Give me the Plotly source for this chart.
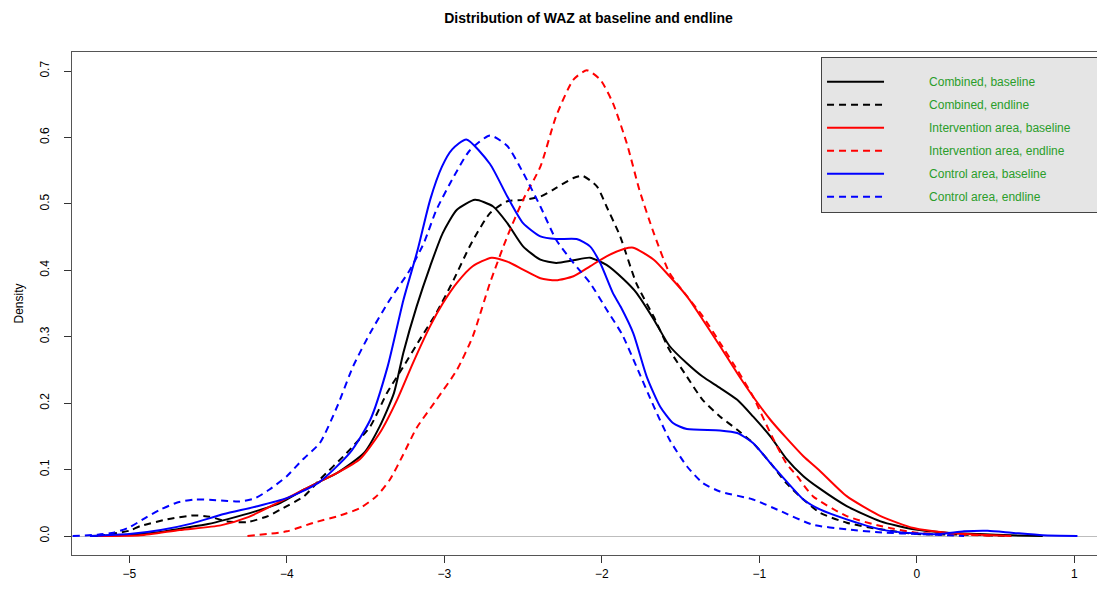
import plotly.graph_objects as go

# density curves (WAZ value, density)
comb_base_x = [-5.25, -5.0, -4.8, -4.68, -4.5, -4.38, -4.2, -4.04, -3.89, -3.79, -3.68, -3.51, -3.41, -3.32,
               -3.26, -3.175, -3.09, -3.01, -2.92, -2.805, -2.69, -2.6, -2.5, -2.39, -2.29, -2.18, -2.075,
               -1.97, -1.86, -1.78, -1.67, -1.57, -1.46, -1.36, -1.25, -1.14, -1.04, -0.93, -0.83, -0.72,
               -0.62, -0.445, -0.23, -0.02, 0.19, 0.4, 0.6, 0.8]
comb_base_y = [0.0, 0.002, 0.006, 0.011, 0.018, 0.025, 0.037, 0.05, 0.07, 0.082, 0.095, 0.125, 0.165, 0.215,
               0.276, 0.346, 0.406, 0.456, 0.491, 0.506, 0.496, 0.471, 0.436, 0.416, 0.411, 0.415, 0.419,
               0.408, 0.386, 0.366, 0.326, 0.286, 0.26, 0.24, 0.223, 0.205, 0.18, 0.15, 0.117, 0.09,
               0.072, 0.045, 0.022, 0.01, 0.005, 0.003, 0.001, 0.0]

comb_end_x = [-5.2, -5.0, -4.93, -4.76, -4.59, -4.49, -4.38, -4.25, -4.12, -4.04, -3.89, -3.79, -3.62, -3.47,
              -3.365, -3.26, -3.155, -3.05, -2.94, -2.83, -2.71, -2.6, -2.5, -2.39, -2.29, -2.18, -2.12,
              -2.03, -1.97, -1.885, -1.78, -1.67, -1.57, -1.46, -1.36, -1.25, -1.14, -1.04, -0.93, -0.83,
              -0.72, -0.615, -0.445, -0.23, 0.0, 0.3, 0.6]
comb_end_y = [0.0, 0.008, 0.015, 0.025, 0.031, 0.029, 0.022, 0.021, 0.03, 0.04, 0.06, 0.085, 0.125, 0.165,
              0.215, 0.255, 0.296, 0.336, 0.386, 0.44, 0.486, 0.504, 0.506, 0.511, 0.524, 0.539, 0.542,
              0.526, 0.496, 0.452, 0.38, 0.33, 0.28, 0.24, 0.205, 0.18, 0.16, 0.14, 0.11, 0.08,
              0.055, 0.035, 0.02, 0.01, 0.003, 0.002, 0.0]

int_base_x = [-5.2, -4.93, -4.68, -4.42, -4.25, -4.04, -3.89, -3.79, -3.68, -3.535, -3.41, -3.3, -3.2, -3.09,
              -3.01, -2.92, -2.82, -2.7, -2.6, -2.5, -2.39, -2.29, -2.18, -2.075, -1.97, -1.86, -1.8, -1.67,
              -1.57, -1.46, -1.36, -1.25, -1.14, -1.04, -0.93, -0.83, -0.72, -0.615, -0.445, -0.23, -0.02,
              0.19, 0.4, 0.6]
int_base_y = [0.0, 0.001, 0.009, 0.016, 0.028, 0.052, 0.07, 0.082, 0.095, 0.116, 0.155, 0.205, 0.26, 0.316,
              0.35, 0.381, 0.406, 0.419, 0.413, 0.401, 0.388, 0.385, 0.391, 0.406, 0.421, 0.432, 0.434, 0.416,
              0.391, 0.361, 0.326, 0.286, 0.245, 0.21, 0.175, 0.148, 0.12, 0.098, 0.06, 0.03, 0.012,
              0.005, 0.002, 0.0]

int_end_x = [-4.25, -4.0, -3.83, -3.66, -3.535, -3.43, -3.345, -3.26, -3.175, -3.05, -2.92, -2.82, -2.71,
             -2.6, -2.5, -2.39, -2.29, -2.18, -2.095, -2.01, -1.93, -1.84, -1.76, -1.67, -1.57, -1.46,
             -1.36, -1.25, -1.14, -1.04, -0.93, -0.83, -0.76, -0.66, -0.445, -0.23, 0.0, 0.3, 0.5]
int_end_y = [0.0, 0.007, 0.02, 0.031, 0.042, 0.06, 0.085, 0.123, 0.163, 0.205, 0.25, 0.3, 0.381,
             0.451, 0.506, 0.556, 0.632, 0.687, 0.701, 0.687, 0.652, 0.59, 0.52, 0.456, 0.396, 0.361,
             0.331, 0.291, 0.25, 0.21, 0.155, 0.11, 0.09, 0.06, 0.03, 0.015, 0.005, 0.002, 0.0]

ctrl_base_x = [-5.25, -5.0, -4.8, -4.6, -4.4, -4.2, -4.0, -3.8, -3.6, -3.47, -3.36, -3.26, -3.17, -3.09,
               -3.015, -2.95, -2.86, -2.71, -2.6, -2.5, -2.39, -2.29, -2.16, -2.075, -2.01, -1.93, -1.88,
               -1.8, -1.715, -1.63, -1.548, -1.46, -1.25, -1.14, -1.04, -0.93, -0.83, -0.72, -0.615,
               -0.445, -0.23, -0.02, 0.15, 0.3, 0.45, 0.6, 0.8, 1.02]
ctrl_base_y = [0.0, 0.003, 0.009, 0.019, 0.033, 0.044, 0.057, 0.08, 0.125, 0.175, 0.255, 0.355, 0.43, 0.506,
               0.556, 0.582, 0.597, 0.56, 0.511, 0.471, 0.451, 0.447, 0.447, 0.436, 0.411, 0.366, 0.345,
               0.305, 0.24, 0.195, 0.17, 0.161, 0.159, 0.155, 0.14, 0.11, 0.083, 0.055, 0.04,
               0.025, 0.01, 0.004, 0.003, 0.007, 0.008, 0.005, 0.001, 0.0]

ctrl_end_x = [-5.36, -5.2, -5.1, -5.0, -4.9, -4.8, -4.7, -4.59, -4.45, -4.3, -4.2, -4.11, -4.0, -3.9, -3.79,
              -3.68, -3.58, -3.47, -3.345, -3.22, -3.13, -3.05, -2.94, -2.84, -2.71, -2.6, -2.5, -2.39,
              -2.29, -2.18, -2.075, -1.97, -1.87, -1.78, -1.67, -1.57, -1.46, -1.36, -1.25, -1.04, -0.87,
              -0.66, -0.445, -0.2, 0.0, 0.2, 0.3]
ctrl_end_y = [0.0, 0.002, 0.005, 0.013, 0.027, 0.04, 0.05, 0.055, 0.054, 0.052, 0.057, 0.07, 0.09, 0.115, 0.14,
              0.195, 0.255, 0.306, 0.356, 0.4, 0.441, 0.491, 0.541, 0.58, 0.603, 0.587, 0.547, 0.496,
              0.446, 0.411, 0.381, 0.341, 0.303, 0.255, 0.195, 0.145, 0.105, 0.08, 0.067, 0.055, 0.038,
              0.017, 0.01, 0.005, 0.003, 0.001, 0.0]

series = [
    ("Combined, baseline", comb_base_x, comb_base_y, "black", "solid"),
    ("Combined, endline", comb_end_x, comb_end_y, "black", "7px,5px"),
    ("Intervention area, baseline", int_base_x, int_base_y, "red", "solid"),
    ("Intervention area, endline", int_end_x, int_end_y, "red", "7px,5px"),
    ("Control area, baseline", ctrl_base_x, ctrl_base_y, "blue", "solid"),
    ("Control area, endline", ctrl_end_x, ctrl_end_y, "blue", "7px,5px"),
]

fig = go.Figure()
for name, xs, ys, col, dash in series:
    # padding spaces push the text right and widen the legend box like the R legend
    fig.add_trace(go.Scatter(
        x=xs, y=ys, name="&nbsp;" * 12 + name + "&nbsp;" * 10, mode="lines", legendgroup=name,
        line=dict(color=col, width=2, dash=dash, shape="spline", smoothing=0.6),
    ))

# page body has an 8px margin, so the figure is sized/offset to fit the 1105x590 window
fig.update_layout(
    width=1097, height=574,
    margin=dict(l=64, r=0, t=44, b=27, autoexpand=False),
    plot_bgcolor="white", paper_bgcolor="white",
    font=dict(family="Liberation Sans, Arial, sans-serif", size=12, color="black"),
    title=dict(text="<b>Distribution of WAZ at baseline and endline</b>",
               x=0.5, xref="paper", y=0.983, yref="container", yanchor="middle",
               font=dict(size=14, color="black")),
    legend=dict(x=0.7251, y=0.99, xanchor="left", yanchor="top",
                bgcolor="#e5e5e5", bordercolor="#444444", borderwidth=1,
                font=dict(size=12, color="#2a9d2a"),
                title=dict(text=" ", font=dict(size=7)),
                itemwidth=57, tracegroupgap=4),
    showlegend=True,
)

fig.update_xaxes(
    range=[-5.364, 1.195], showgrid=False, zeroline=False,
    showline=True, linecolor="#555555", linewidth=1, mirror=True,
    tickmode="array", tickvals=[-5, -4, -3, -2, -1, 0, 1],
    ticks="outside", ticklen=7, tickcolor="#333333", ticklabelstandoff=1,
)
fig.update_yaxes(
    range=[-0.0286, 0.7286], showgrid=False,
    zeroline=True, zerolinecolor="#bdbdbd", zerolinewidth=1,
    showline=True, linecolor="#555555", linewidth=1,
    tickmode="array", tickvals=[0, 0.1, 0.2, 0.3, 0.4, 0.5, 0.6, 0.7], tickformat=".1f",
    ticks="outside", ticklen=7, tickcolor="#333333", tickangle=-90, ticklabelstandoff=10,
    title=dict(text="Density", standoff=12, font=dict(size=12)),
)

fig.write_html("out.html")
